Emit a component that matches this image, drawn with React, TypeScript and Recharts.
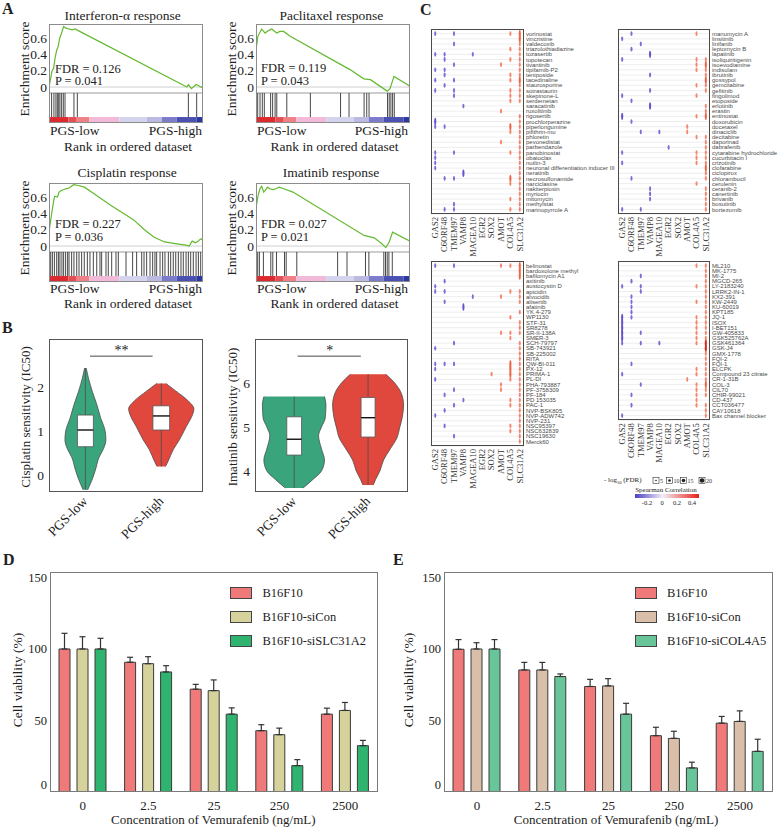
import React from "react";
import {
  ComposedChart,
  Line,
  Area,
  XAxis,
  YAxis,
  ReferenceLine,
  ReferenceArea,
  ScatterChart,
  Scatter,
  CartesianGrid,
  BarChart,
  Bar,
  ErrorBar,
} from "recharts";

const SERIF = '"Liberation Serif", "Times New Roman", serif';
const SANS = '"Liberation Sans", Arial, sans-serif';
const INK = "#222";

// ---------- A: GSEA running enrichment scores ----------
const ifnRank = [0, 1, 2, 3, 4, 5, 6, 7, 8, 9.5, 11, 13, 15, 17, 19, 89.5, 90.5, 92.5, 95.5, 100];
const ifnScore = [0, 0.1, 0.2, 0.23, 0.36, 0.45, 0.5, 0.6, 0.65, 0.74, 0.72, 0.71, 0.7, 0.71, 0.69, 0.0, 0.03, -0.02, 0.03, -0.01];
const ifnHits = [1.7, 3.2, 4.5, 5.4, 6.3, 7.1, 8.2, 9.3, 10.4, 16.2, 18.4, 90.5, 95.9];

const pacRank = [0, 1.2, 3.7, 5.9, 8, 10.2, 13.5, 15.5, 17.9, 22.2, 61.3, 70, 74.3, 85.2, 87, 89.6, 100];
const pacScore = [0.45, 0.62, 0.71, 0.66, 0.69, 0.71, 0.66, 0.68, 0.68, 0.62, 0.21, 0.1, 0.09, -0.05, -0.02, 0.13, 0.01];
const pacHits = [1.1, 2.6, 4.1, 5.4, 9.5, 10.8, 12.4, 13.5, 20, 35.3, 54.9, 60.4, 70.2, 71.9, 73.4, 85.4, 86.5, 87.6, 88.7, 89.8];

const cisRank = [0, 1.5, 3, 3.7, 5.5, 6.5, 8, 11, 13, 16, 19, 23, 30, 40, 50, 55, 62, 68, 75, 82, 89, 91, 93, 95, 97, 98.5, 100];
const cisScore = [0.17, 0.37, 0.55, 0.61, 0.6, 0.66, 0.68, 0.7, 0.71, 0.75, 0.74, 0.72, 0.63, 0.5, 0.38, 0.32, 0.2, 0.11, 0.05, 0.03, 0.01, 0.0, 0.06, 0.04, 0.06, 0.09, 0.07];
const cisHits = [
  1.1, 2.2, 3.5, 5, 6.1, 7.1, 8.4, 9.5, 10.8, 12.1, 13, 14.7, 16.2, 18, 19.5, 21.2, 22.9, 24.9, 26.6, 28.8,
  31, 33.1, 34.2, 37, 38.5, 40.7, 43.5, 45, 50, 54.3, 56.9, 60.2, 61.7, 63.4, 65.6, 67.3, 68.8, 69.9, 72.1,
  73.8, 75.3, 77.5, 79, 80.7, 82.3, 84, 85.7, 87.2, 89, 90.5, 92, 93.7, 95.5, 97, 98.5,
];

const imaRank = [0, 1.2, 2.5, 3.7, 5, 6, 7.5, 9, 11, 13, 15, 18, 24, 70.2, 76.7, 81, 84.3, 86.5, 88.7, 100];
const imaScore = [0.47, 0.6, 0.7, 0.73, 0.66, 0.68, 0.72, 0.7, 0.69, 0.7, 0.72, 0.7, 0.66, 0.13, 0.1, 0.04, -0.02, 0.05, 0.17, 0.06];
const imaHits = [1.1, 2.2, 4.8, 9.6, 10.9, 13.3, 18.5, 19.6, 26.5, 53, 59.1, 71.1, 73.3, 83, 84.1, 85.2, 86.3, 88.5];

const rankBreaks = [0, 12.6, 18, 26.2, 45.7, 63.4, 73.2, 82.9, 95.9, 100];
const rankColors = ["#dd2a2f", "#e44f55", "#ee8086", "#f2bad8", "#d4d4ee", "#babae2", "#7c7ccb", "#4b50b3", "#2b38a0"];

const ES_MIN = -0.44;
const ES_MAX = 0.771;
const ES_FLOOR = -0.073;
const HIT_FLOOR = -0.367;

// ---------- B: IC50 violins ----------
const GROUP_LABELS = ["PGS-low", "PGS-high"];
const GREEN = "#3aa47d";
const RED = "#e0483d";

const cisLowV = [2.43, 2.2, 1.9, 1.6, 1.3, 1.0, 0.8, 0.6, 0.4, 0.1, -0.1, -0.34];
const cisLowW = [0.01, 0.04, 0.09, 0.15, 0.2, 0.26, 0.27, 0.24, 0.18, 0.13, 0.09, 0.03];
const cisLowBox = [0.64, 1.02, 1.36];
const cisHighV = [2.08, 1.91, 1.69, 1.5, 1.32, 1.1, 0.8, 0.58, 0.31, 0.19];
const cisHighW = [0.06, 0.19, 0.35, 0.43, 0.4, 0.33, 0.24, 0.16, 0.09, 0.055];
const cisHighBox = [1.02, 1.34, 1.57];

const imaLowV = [5.69, 5.5, 5.2, 5.0, 4.8, 4.5, 4.25, 4.0, 3.8, 3.61];
const imaLowW = [0.41, 0.43, 0.42, 0.37, 0.33, 0.37, 0.41, 0.37, 0.25, 0.12];
const imaLowBox = [4.36, 4.72, 5.23];
const imaHighV = [6.2, 6.0, 5.8, 5.5, 5.2, 5.0, 4.75, 4.5, 4.25, 4.0, 3.8, 3.68];
const imaHighW = [0.24, 0.36, 0.44, 0.48, 0.46, 0.43, 0.39, 0.3, 0.21, 0.16, 0.1, 0.07];
const imaHighBox = [4.77, 5.21, 5.67];

// ---------- C: drug / gene correlation dots ----------
const GENES = ["GAS2", "C6ORF48", "TMEM97", "VAMP8", "MAGEA10", "EGR2", "SOX2", "AMOT", "COL4A5", "SLC31A2"];
// b/B = negative rho (small/large FDR mark), r/R/D = positive rho
const MARK_FILL: Record<string, string> = { b: "#7b6dd8", B: "#6552cf", r: "#f3866c", R: "#ee6446", D: "#d9271c" };
const MARK_RY: Record<string, number> = { b: 2.4, B: 3.7, r: 2.4, R: 3.7, D: 3.7 };

const tlDrugs = [
  "vorinostat", "vincristine", "valdecoxib", "triazolothiadiazine", "tozasertib", "topotecan", "tivantinib",
  "tipifarnib-P2", "teniposide", "tacedinaline", "staurosporine", "sotrastaurin", "skepinone-L", "serdemetan",
  "saracatinib", "ruxolitinib", "rigosertib", "prochlorperazine", "piperlongumine", "pifithrin-mu", "phloretin",
  "pevonedistat", "parbendazole", "panobinostat", "obatoclax", "nutlin-3", "neuronal differentiation inducer III",
  "neratinib", "necrosulfonamide", "narciclasine", "nakiterpiosin", "myriocin", "mitomycin", "methylstat",
  "marinopyrrole A",
];
const tlCodes = [
  "b.b.....rR", ".........R", "..b......r", "........rr", "bb..b....r", ".b......rr", "..b....r.r",
  "bb.......r", ".b......rr", "b.b.....rR", ".b.......r", "b.b.....rr", "..b.....rr", "........rr",
  "...b......", ".......r..", ".........r", "B........r", "bb......Rr", "........rr", ".........r",
  ".......r.r", ".........r", "b.b.....rr", "b........r", "b........r", "b........r",
  "...B.....r", ".bb.....Rr", "........rr", ".........r", ".........r", "........rr", "..b......r",
  ".bb.....rr",
];

const trDrugs = [
  "manumycin A", "linsitinib", "linifanib", "leptomycin B", "lapatinib", "isoliquiritigenin", "isoevodiamine",
  "indisulam", "ibrutinib", "gossypol", "gemcitabine", "gefitinib", "fingolimod", "etoposide", "erlotinib",
  "erastin", "entinostat", "doxorubicin", "docetaxel", "dinaciclib", "decitabine", "daporinad", "dabrafenib",
  "cytarabine hydrochloride", "cucurbitacin I", "crizotinib", "clofarabine", "ciclopirox", "chlorambucil",
  "cerulenin", "ceranib-2", "canertinib", "brivanib", "bosutinib", "bortezomib",
];
const trCodes = [
  ".b......r.", "b.........", "..b.......", ".b........", "...B......", "b.......rr", "........rR",
  "........rr", "...b.....r", ".........R", "........rr", "...b.....r", "b.......r.", ".b........", "...B.....r",
  ".........r", "B.......rR", ".b........", ".......r..", "..b.b..r..", "........rr", ".........r", ".....b...r",
  "b.......rr", "........rr", "b.......rr", ".........R", ".........r", ".b.......r",
  "........r.", "...b.....r", "...b.....r", "...b.....r", ".........r", "b.b......r",
];

const blDrugs = [
  "belinostat", "bardoxolone methyl", "bafilomycin A1", "axitinib", "austocystin D", "apicidin", "alvocidib",
  "alisertib", "afatinib", "YK 4-279", "WP1130", "STF-31", "SR8278", "SR-II-138A", "SMER-3", "SCH-79797",
  "SB-743921", "SB-225002", "RITA", "QW-BI-011", "PX-12", "PRIMA-1", "PL-DI", "PHA-793887", "PF-3758309",
  "PF-184", "PD 153035", "PAC-1", "NVP-BSK805", "NVP-ADW742", "NVP-231", "NSC95397", "NSC632839", "NSC19630",
  "Merck60",
];
const blCodes = [
  "b.b....rrR", ".........R", ".........R", ".b........", "b.........", "bb......rr", "....b..r.r",
  ".b.......r", "...B......", ".........r", "........r.", ".........r", ".........r", ".......rrr", "........r.", "..b......r",
  "b........r", ".........r", ".........r", "bbb.....Rr", "b.......Rr", "......r.Rr", "b.......rr", ".......r.r", "..b....r.r",
  ".b.......r", "...b....rr", "..b.....rr", ".b.......r", "b........r", ".........r", ".b......rr", "........rr", "..b......r",
  ".........r",
];

const brDrugs = [
  "ML210", "MK-1775", "MI-2", "MGCD-265", "LY-2183240", "LRRK2-IN-1", "KX2-391", "KW-2449", "KU-60019", "KPT185",
  "JQ-1", "ISOX", "I-BET151", "GW-405833", "GSK525762A", "GSK461364", "GSK-J4", "GMX-1778", "FQI-2", "FQI-1",
  "ELCPK", "Compound 23 citrate", "CR-1-31B", "COL-3", "CIL70", "CHIR-99021", "CD-437", "CCT036477", "CAY10618",
  "Bax channel blocker",
];
const brCodes = [
  "........rr", ".........r", "..b......r", ".b.......r", "b.b.....rr", "..b......r", ".b.......r", ".b......rr", ".b.......r", ".b.......r",
  "Bb......rr", "B.......rr", "B.......rr", "B.b.....rr", "B.......rr", "b.b.b...rD", ".........D", ".........r", ".........r", ".b.......r",
  "........rr", "b.......rr", ".......r.r", "..b.....rR", "........rr", ".b......rr", "........r.", ".b......rr", ".........r",
  "b........r",
];

const FDR_LEVELS = [5, 10, 15, 20];
const RHO_TICKS = ["-0.2", "0", "0.2", "0.4"];

// ---------- D / E: cell viability ----------
const CONCENTRATIONS = ["0", "2.5", "25", "250", "2500"];
const dNames = ["B16F10", "B16F10-siCon", "B16F10-siSLC31A2"];
const dB16 = [100, 90.7, 71.8, 42.7, 54.3];
const dB16Err = [11, 3.5, 3.4, 4.2, 4.2];
const dSiCon = [100, 89.7, 70.8, 39.9, 56.9];
const dSiConErr = [8.6, 4.9, 7.5, 4.6, 5.6];
const dSiSlc = [100, 83.9, 54.3, 18.2, 32.2];
const dSiSlcErr = [7.5, 4.4, 4.4, 4.2, 3.7];

const eNames = ["B16F10", "B16F10-siCon", "B16F10-siCOL4A5"];
const eB16 = [99.8, 85.3, 73.7, 39.2, 48];
const eB16Err = [6.8, 5.3, 5.0, 5.9, 4.7];
const eSiCon = [100, 85.3, 74.1, 37.3, 49.2];
const eSiConErr = [4.4, 5.3, 5.1, 5.0, 7.4];
const eSiCol = [100, 80.7, 54.3, 16.6, 28.2];
const eSiColErr = [6.6, 1.8, 7.6, 4.0, 8.5];

const D_COLORS = ["#f07a7a", "#d5d29c", "#2eb46f"];
const E_COLORS = ["#f07a7a", "#d9bfa9", "#68c59a"];

// ---------- helpers ----------
function frame(x: number, y: number, w: number, h: number, color = "#888"): React.CSSProperties {
  return {
    position: "absolute",
    left: x,
    top: y,
    width: w,
    height: h,
    border: `1px solid ${color}`,
    boxSizing: "border-box",
    pointerEvents: "none",
  };
}

function Txt({ x, y, children, size = 13, anchor = "start", rotate = 0, bold = false, font = SERIF, color = INK }: any) {
  const tx = anchor === "start" ? "0%" : anchor === "middle" ? "-50%" : "-100%";
  return (
    <div
      style={{
        position: "absolute",
        left: x,
        top: y,
        transform: `translate(${tx}, -50%) rotate(${rotate}deg)`,
        fontSize: size,
        fontFamily: font,
        fontWeight: bold ? 700 : 400,
        color,
        whiteSpace: "nowrap",
        lineHeight: 1,
      }}
    >
      {children}
    </div>
  );
}

const leftTick = (size: number, fmt: (v: number) => string) => (p: any) => (
  <text x={p.x} y={p.y} dy="0.35em" textAnchor="end" fontSize={size} fontFamily={SERIF} fill={INK}>
    {fmt(p.payload.value)}
  </text>
);

// ---------- A ----------
function GseaPlot({ rank, score, hits, x, y }: any) {
  const data = rank.map((r: number, i: number) => ({ rank: r, es: score[i] }));
  return (
    <>
      <div style={{ position: "absolute", left: x - 32, top: y - 2 }}>
        <ComposedChart width={188} height={103} data={data} margin={{ top: 2, right: 2, bottom: 2, left: 2 }}>
          <XAxis type="number" dataKey="rank" domain={[0, 100]} hide allowDataOverflow />
          <YAxis
            type="number"
            domain={[ES_MIN, ES_MAX]}
            ticks={[0, 0.2, 0.4, 0.6]}
            interval={0}
            allowDataOverflow
            width={30}
            tickLine={false}
            axisLine={false}
            tickSize={0}
            tickMargin={2}
            tick={leftTick(13.5, (v) => (v === 0 ? "0" : v.toFixed(1)))}
          />
          {rankColors.map((c, i) => (
            <ReferenceArea
              key={c}
              x1={rankBreaks[i]}
              x2={rankBreaks[i + 1]}
              y1={ES_MIN}
              y2={HIT_FLOOR}
              fill={c}
              fillOpacity={1}
              stroke="none"
            />
          ))}
          <ReferenceLine y={0} stroke="#cfcfcf" />
          <ReferenceLine y={ES_FLOOR} stroke="#9a9a9a" />
          {hits.map((h: number) => (
            <ReferenceLine
              key={h}
              segment={[
                { x: h, y: ES_FLOOR },
                { x: h, y: HIT_FLOOR },
              ]}
              stroke="#333"
              strokeWidth={0.9}
            />
          ))}
          <Line type="linear" dataKey="es" stroke="#63b92f" strokeWidth={1.2} dot={false} isAnimationActive={false} />
        </ComposedChart>
      </div>
      <div style={frame(x, y, 154, 99, "#8c8c8c")} />
    </>
  );
}

// ---------- B ----------
const groupTick = (p: any) => {
  const ax = p.x + 3;
  const ay = p.y + 6;
  return (
    <text x={ax} y={ay} transform={`rotate(-45 ${ax} ${ay})`} textAnchor="end" fontSize={13.5} fontFamily={SERIF} fill={INK}>
      {GROUP_LABELS[p.payload.value - 1]}
    </text>
  );
};

function ViolinPlot({ groups, xDomain, yDomain, yTicks, sig, x, y, w }: any) {
  const h = 153;
  return (
    <>
      <div style={{ position: "absolute", left: x - 30, top: y }}>
        <ComposedChart layout="vertical" width={w + 32} height={h + 50} margin={{ top: 0, right: 2, bottom: 0, left: 0 }}>
          <XAxis
            type="number"
            domain={xDomain}
            ticks={[1, 2]}
            interval={0}
            allowDataOverflow
            height={50}
            tickLine={false}
            axisLine={false}
            tickSize={0}
            tickMargin={4}
            tick={groupTick}
          />
          <YAxis
            type="number"
            dataKey="v"
            reversed
            domain={yDomain}
            ticks={yTicks}
            interval={0}
            allowDataOverflow
            width={30}
            tickLine={false}
            axisLine={false}
            tickSize={0}
            tickMargin={5}
            tick={leftTick(13.5, (v) => String(v))}
          />
          {groups.map((g: any) => (
            <Area
              key={g.center}
              data={g.v.map((v: number, i: number) => ({ v, band: [g.center - g.w[i], g.center + g.w[i]] }))}
              dataKey="band"
              type="monotone"
              fill={g.color}
              fillOpacity={1}
              stroke="#4d4d4d"
              strokeWidth={0.8}
              dot={false}
              activeDot={false}
              isAnimationActive={false}
            />
          ))}
          {groups.map((g: any) => (
            <ReferenceLine
              key={`w${g.center}`}
              segment={[
                { x: g.center, y: g.v[g.v.length - 1] },
                { x: g.center, y: g.v[0] },
              ]}
              stroke="#4d4d4d"
              strokeWidth={0.8}
              zIndex={700}
            />
          ))}
          {groups.map((g: any) => (
            <ReferenceArea
              key={`b${g.center}`}
              x1={g.center - g.boxHalf}
              x2={g.center + g.boxHalf}
              y1={g.box[0]}
              y2={g.box[2]}
              fill="#fff"
              fillOpacity={1}
              stroke="#555"
              strokeWidth={0.8}
              zIndex={710}
            />
          ))}
          {groups.map((g: any) => (
            <ReferenceLine
              key={`m${g.center}`}
              segment={[
                { x: g.center - g.boxHalf, y: g.box[1] },
                { x: g.center + g.boxHalf, y: g.box[1] },
              ]}
              stroke="#111"
              strokeWidth={1.4}
              zIndex={720}
            />
          ))}
          <ReferenceLine
            segment={[
              { x: sig.x1, y: sig.y },
              { x: sig.x2, y: sig.y },
            ]}
            stroke="#333"
            strokeWidth={0.9}
          />
        </ComposedChart>
      </div>
      <div style={frame(x, y, w, h, "#555")} />
    </>
  );
}

// ---------- C ----------
const ROW_PX = 5.17;

const geneTick = (p: any) => (
  <text x={p.x} y={p.y} transform={`rotate(-90 ${p.x} ${p.y})`} textAnchor="end" dy="0.33em" fontSize={8.5} fontFamily={SERIF} fill="#333">
    {GENES[p.payload.value]}
  </text>
);

const renderMark = (p: any) => {
  const c = p.payload.code;
  return <ellipse cx={p.cx} cy={p.cy} rx={1.05} ry={MARK_RY[c]} fill={MARK_FILL[c]} />;
};

function DotPanel({ drugs, codes, x, y, w }: any) {
  const n = drugs.length;
  const h = (n + 0.8) * ROW_PX;
  const marks: any[] = [];
  codes.forEach((row: string, r: number) =>
    row.split("").forEach((c, g) => {
      if (c !== ".") marks.push({ gene: g, row: r, code: c });
    })
  );
  const drugTick = (p: any) => (
    <text x={p.x} y={p.y} dy="0.35em" textAnchor="start" fontSize={6} fontFamily={SANS} fill="#4a4a4a">
      {drugs[p.payload.value]}
    </text>
  );
  return (
    <>
      <div style={{ position: "absolute", left: x, top: y }}>
        <ScatterChart width={w + 120} height={h + 48} margin={{ top: 0, right: 0, bottom: 0, left: 0 }}>
          <CartesianGrid vertical={false} stroke="#e2e2e2" strokeWidth={0.6} />
          <XAxis
            type="number"
            dataKey="gene"
            domain={[-0.45, 9.45]}
            ticks={GENES.map((_, i) => i)}
            interval={0}
            allowDataOverflow
            height={48}
            tickLine={false}
            axisLine={false}
            tickSize={0}
            tickMargin={3}
            tick={geneTick}
          />
          <YAxis
            type="number"
            dataKey="row"
            orientation="right"
            reversed
            domain={[-0.9, n - 0.1]}
            ticks={drugs.map((_: string, i: number) => i)}
            interval={0}
            allowDataOverflow
            width={120}
            tickLine={false}
            axisLine={false}
            tickSize={0}
            tickMargin={2}
            tick={drugTick}
          />
          <Scatter data={marks} shape={renderMark} isAnimationActive={false} />
        </ScatterChart>
      </div>
      <div style={frame(x, y, w, h, "#4a4a4a")} />
    </>
  );
}

function CorrLegend() {
  const boxX = [3, 16.5, 30.5, 49];
  return (
    <>
      <Txt x={604} y={481} size={7}>
        - log<sub style={{ fontSize: 4.5 }}>10</sub> (FDR)
      </Txt>
      <svg style={{ position: "absolute", left: 650, top: 476 }} width={70} height={10}>
        {FDR_LEVELS.map((lv, i) => (
          <g key={lv}>
            <rect x={boxX[i]} y={1.5} width={6} height={6} fill="none" stroke="#333" strokeWidth={0.6} />
            <circle cx={boxX[i] + 3} cy={4.5} r={0.8 + i * 0.5} fill="#222" />
            <text x={boxX[i] + 7} y={7} fontSize={6} fontFamily={SERIF} fill="#333">
              {lv}
            </text>
          </g>
        ))}
      </svg>
      <Txt x={666} y={489.5} size={7} anchor="middle">
        Spearman Correlation
      </Txt>
      <svg style={{ position: "absolute", left: 635, top: 494 }} width={64} height={4}>
        <defs>
          <linearGradient id="rho" x1="0" x2="1" y1="0" y2="0">
            <stop offset="0%" stopColor="#4b3fc4" />
            <stop offset="43%" stopColor="#f3eef6" />
            <stop offset="100%" stopColor="#e8201a" />
          </linearGradient>
        </defs>
        <rect x={0} y={0} width={64} height={4} fill="url(#rho)" />
      </svg>
      {RHO_TICKS.map((t, i) => (
        <Txt key={t} x={647 + i * 15} y={503} size={6.5} anchor="middle">
          {t}
        </Txt>
      ))}
    </>
  );
}

// ---------- D / E ----------
const viabilityTick = (p: any) => (
  <text x={p.x} y={p.y - (p.payload.value === 0 ? 7 : 0)} dy="0.35em" textAnchor="end" fontSize={12.5} fontFamily={SERIF} fill={INK}>
    {String(p.payload.value)}
  </text>
);

const concTick = (p: any) => (
  <text x={p.x} y={p.y} dy="0.75em" textAnchor="middle" fontSize={13} fontFamily={SERIF} fill={INK}>
    {p.payload.value}
  </text>
);

function ViabilityChart({ x, y, w, values, errors, colors, names, legendX }: any) {
  const data = CONCENTRATIONS.map((c, i) => {
    const row: any = { conc: c };
    values.forEach((s: number[], k: number) => {
      row[`v${k}`] = s[i];
      row[`e${k}`] = [0, errors[k][i]];
    });
    return row;
  });
  return (
    <>
      <div style={{ position: "absolute", left: x - 44, top: y }}>
        <BarChart width={w + 46} height={244} data={data} margin={{ top: 0, right: 2, bottom: 0, left: 0 }} barSize={11} barGap={7}>
          <XAxis dataKey="conc" type="category" interval={0} height={24} tickLine={false} axisLine={false} tickSize={0} tickMargin={8} tick={concTick} />
          <YAxis
            type="number"
            domain={[-0.3, 154]}
            ticks={[0, 50, 100, 150]}
            interval={0}
            allowDataOverflow
            width={44}
            tickLine={false}
            axisLine={false}
            tickSize={0}
            tickMargin={3}
            tick={viabilityTick}
          />
          {values.map((_: number[], k: number) => (
            <Bar key={k} dataKey={`v${k}`} name={names[k]} fill={colors[k]} stroke="#3a3a3a" strokeWidth={1} isAnimationActive={false}>
              <ErrorBar dataKey={`e${k}`} direction="y" width={3} stroke="#333" strokeWidth={1.2} />
            </Bar>
          ))}
        </BarChart>
      </div>
      <div style={frame(x, y, w, 220, "#7a7a7a")} />
      {names.map((nm: string, k: number) => (
        <React.Fragment key={nm}>
          <div
            style={{
              position: "absolute",
              left: legendX,
              top: 586.5 + k * 24,
              width: 22,
              height: 12,
              background: colors[k],
              border: "1px solid #444",
              boxSizing: "border-box",
            }}
          />
          <Txt x={legendX + 32.5} y={592.5 + k * 24} size={12.5}>
            {nm}
          </Txt>
        </React.Fragment>
      ))}
    </>
  );
}

export default function App() {
  return (
    <div
      style={{
        position: "absolute",
        left: 0,
        top: 0,
        width: 779,
        height: 828,
        background: "#fff",
        overflow: "hidden",
        fontFamily: SERIF,
      }}
    >
      {/* A */}
      <Txt x={2} y={9} size={16} bold>A</Txt>
      <GseaPlot rank={ifnRank} score={ifnScore} hits={ifnHits} x={49} y={24} />
      <GseaPlot rank={pacRank} score={pacScore} hits={pacHits} x={256} y={24} />
      <GseaPlot rank={cisRank} score={cisScore} hits={cisHits} x={49} y={183} />
      <GseaPlot rank={imaRank} score={imaScore} hits={imaHits} x={256} y={183} />

      <Txt x={122.7} y={15.5} size={13.5} anchor="middle">Interferon-α response</Txt>
      <Txt x={331.3} y={15.5} size={13.5} anchor="middle">Paclitaxel response</Txt>
      <Txt x={127.2} y={172.7} size={13.5} anchor="middle">Cisplatin response</Txt>
      <Txt x={331} y={172.7} size={13.5} anchor="middle">Imatinib response</Txt>
      {[
        [25, 68.5],
        [232, 68.5],
        [25, 227.5],
        [232, 227.5],
      ].map(([tx, ty]) => (
        <Txt key={`${tx}-${ty}`} x={tx} y={ty} size={13.5} anchor="middle" rotate={-90}>
          Enrichment score
        </Txt>
      ))}
      <Txt x={55} y={68.5} size={12.5}>FDR = 0.126</Txt>
      <Txt x={55} y={81.3} size={12.5}>P = 0.041</Txt>
      <Txt x={261} y={68} size={12.5}>FDR = 0.119</Txt>
      <Txt x={261} y={80.8} size={12.5}>P = 0.043</Txt>
      <Txt x={55} y={224} size={12.5}>FDR = 0.227</Txt>
      <Txt x={55} y={236.8} size={12.5}>P = 0.036</Txt>
      <Txt x={261} y={224} size={12.5}>FDR = 0.027</Txt>
      <Txt x={261} y={236.8} size={12.5}>P = 0.021</Txt>
      {[
        [49, 203, 131, 146.7],
        [256, 409, 131, 146.7],
        [49, 203, 289.3, 304.3],
        [256, 409, 289.3, 304.3],
      ].map(([l, r, ly, ry]) => (
        <React.Fragment key={`${l}-${ly}`}>
          <Txt x={l + 1} y={ly} size={13.5}>PGS-low</Txt>
          <Txt x={r - 1} y={ly} size={13.5} anchor="end">PGS-high</Txt>
          <Txt x={(l + r) / 2 + 2} y={ry} size={13.5} anchor="middle">Rank in ordered dataset</Txt>
        </React.Fragment>
      ))}

      {/* B */}
      <Txt x={2} y={328} size={16} bold>B</Txt>
      <ViolinPlot
        x={49}
        y={339}
        w={154}
        xDomain={[0.52, 2.55]}
        yDomain={[-0.39, 3.09]}
        yTicks={[0, 1, 2]}
        sig={{ x1: 1.06, x2: 1.886, y: 2.7 }}
        groups={[
          { center: 1, v: cisLowV, w: cisLowW, color: GREEN, box: cisLowBox, boxHalf: 0.105 },
          { center: 2, v: cisHighV, w: cisHighW, color: RED, box: cisHighBox, boxHalf: 0.11 },
        ]}
      />
      <ViolinPlot
        x={255}
        y={339}
        w={153}
        xDomain={[0.47, 2.54]}
        yDomain={[3.52, 7.0]}
        yTicks={[4, 5, 6]}
        sig={{ x1: 1.047, x2: 1.902, y: 6.61 }}
        groups={[
          { center: 1, v: imaLowV, w: imaLowW, color: GREEN, box: imaLowBox, boxHalf: 0.1 },
          { center: 2, v: imaHighV, w: imaHighW, color: RED, box: imaHighBox, boxHalf: 0.095 },
        ]}
      />
      <Txt x={121.5} y={351} size={14} anchor="middle">**</Txt>
      <Txt x={329.7} y={351} size={14} anchor="middle">*</Txt>
      <Txt x={25} y={416.5} size={13} anchor="middle" rotate={-90}>Cisplatin sensitivity (IC50)</Txt>
      <Txt x={232} y={416.5} size={13} anchor="middle" rotate={-90}>Imatinib sensitivity (IC50)</Txt>

      {/* C */}
      <Txt x={420} y={10} size={16} bold>C</Txt>
      <DotPanel drugs={tlDrugs} codes={tlCodes} x={431} y={29} w={93} />
      <DotPanel drugs={trDrugs} codes={trCodes} x={618} y={29} w={92} />
      <DotPanel drugs={blDrugs} codes={blCodes} x={431} y={261} w={93} />
      <DotPanel drugs={brDrugs} codes={brCodes} x={618} y={261} w={92} />
      <CorrLegend />

      {/* D */}
      <Txt x={3} y={560} size={16} bold>D</Txt>
      <ViabilityChart
        x={50}
        y={572}
        w={328}
        values={[dB16, dSiCon, dSiSlc]}
        errors={[dB16Err, dSiConErr, dSiSlcErr]}
        colors={D_COLORS}
        names={dNames}
        legendX={230}
      />
      <Txt x={18} y={680} size={13.5} anchor="middle" rotate={-90}>Cell viability (%)</Txt>
      <Txt x={213.3} y={819} size={13} anchor="middle">Concentration of Vemurafenib (ng/mL)</Txt>

      {/* E */}
      <Txt x={393} y={560} size={16} bold>E</Txt>
      <ViabilityChart
        x={444}
        y={572}
        w={329}
        values={[eB16, eSiCon, eSiCol]}
        errors={[eB16Err, eSiConErr, eSiColErr]}
        colors={E_COLORS}
        names={eNames}
        legendX={634.5}
      />
      <Txt x={409.3} y={680} size={13.5} anchor="middle" rotate={-90}>Cell viability (%)</Txt>
      <Txt x={616} y={819} size={13} anchor="middle">Concentration of Vemurafenib (ng/mL)</Txt>
    </div>
  );
}
